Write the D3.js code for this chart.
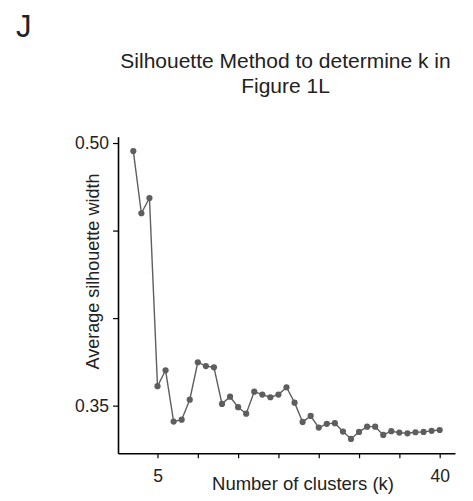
<!DOCTYPE html>
<html>
<head>
<meta charset="utf-8">
<script src="https://cdn.jsdelivr.net/npm/d3@7"></script>
<style>
  html, body { margin: 0; padding: 0; background: #fff; }
  svg { display: block; font-family: "Liberation Sans", Arial, sans-serif; }
</style>
</head>
<body>
<svg id="chart" width="473" height="501"></svg>
<script>
// Number of clusters tried
const clusters = [2, 3, 4, 5, 6, 7, 8, 9, 10, 11, 12, 13, 14, 15, 16, 17, 18, 19, 20,
  21, 22, 23, 24, 25, 26, 27, 28, 29, 30, 31, 32, 33, 34, 35, 36, 37, 38, 39, 40];
// Average silhouette width for each k
const silhouette = [0.4954, 0.4599, 0.4686, 0.3611, 0.3702, 0.3409, 0.3420, 0.3534, 0.3748,
  0.3726, 0.3719, 0.3510, 0.3551, 0.3491, 0.3454, 0.3580, 0.3563, 0.3548, 0.3563, 0.3605,
  0.3517, 0.3407, 0.3441, 0.3375, 0.3396, 0.3400, 0.3352, 0.3310, 0.3350, 0.3380, 0.3380,
  0.3333, 0.3354, 0.3346, 0.3342, 0.3348, 0.3350, 0.3356, 0.3361];
const xTicks = [5, 10, 15, 20, 25, 30, 35, 40];
const xTickLabels = ["5", "", "", "", "", "", "", "40"];
const yTicks = [0.35, 0.40, 0.45, 0.50];
const yTickLabels = ["0.35", "", "", "0.50"];

const points = clusters.map((k, i) => ({ k, v: silhouette[i] }));

const svg = d3.select("#chart");
const panel = { left: 118, right: 455, top: 136.7, bottom: 453.3 };

// Domains padded by 5% of the data range on each side
const xr = d3.extent(clusters), yr = d3.extent(silhouette);
const xp = (xr[1] - xr[0]) * 0.05, yp = (yr[1] - yr[0]) * 0.05;
const x = d3.scaleLinear().domain([xr[0] - xp, xr[1] + xp]).range([panel.left, panel.right]);
const y = d3.scaleLinear().domain([yr[0] - yp, yr[1] + yp]).range([panel.bottom, panel.top]);

const ink = "#222";
const markColor = "#5e5e5e";

// Panel letter
svg.append("text").attr("x", 16).attr("y", 37)
  .attr("font-size", 31).attr("fill", ink).text("J");

// Title
const title = svg.append("text").attr("text-anchor", "middle")
  .attr("font-size", 21).attr("fill", ink);
title.append("tspan").attr("x", 285.5).attr("y", 68).text("Silhouette Method to determine k in");
title.append("tspan").attr("x", 285.5).attr("y", 93).text("Figure 1L");

// Axes
const xAxis = d3.axisBottom(x).tickValues(xTicks)
  .tickFormat((d, i) => xTickLabels[i]).tickSize(5).tickPadding(11.5).tickSizeOuter(0);
const gx = svg.append("g").attr("transform", `translate(0,${panel.bottom})`).call(xAxis);
gx.select(".domain").attr("stroke", "#000").attr("stroke-width", 1.6);
gx.selectAll(".tick line").attr("stroke", "#000").attr("stroke-width", 1.2);
gx.selectAll(".tick text").attr("font-size", 17.5).attr("fill", ink)
  .attr("font-family", "Liberation Sans, Arial, sans-serif");

const yAxis = d3.axisLeft(y).tickValues(yTicks)
  .tickFormat((d, i) => yTickLabels[i]).tickSize(5).tickPadding(4).tickSizeOuter(0);
const gy = svg.append("g").attr("transform", `translate(${panel.left},0)`).call(yAxis);
gy.select(".domain").attr("stroke", "#000").attr("stroke-width", 1.6);
gy.selectAll(".tick line").attr("stroke", "#000").attr("stroke-width", 1.2);
gy.selectAll(".tick text").attr("font-size", 17.5).attr("fill", ink)
  .attr("font-family", "Liberation Sans, Arial, sans-serif");

// Axis titles
svg.append("text").attr("x", 303).attr("y", 489.5).attr("text-anchor", "middle")
  .attr("font-size", 18.5).attr("fill", ink).text("Number of clusters (k)");
svg.append("text").attr("transform", "translate(99,271.5) rotate(-90)")
  .attr("text-anchor", "middle").attr("font-size", 18).attr("fill", ink)
  .text("Average silhouette width");

// Line and points
svg.append("path").datum(points)
  .attr("fill", "none").attr("stroke", markColor).attr("stroke-width", 1.4)
  .attr("d", d3.line().x(d => x(d.k)).y(d => y(d.v)));
svg.append("g").selectAll("circle").data(points).join("circle")
  .attr("cx", d => x(d.k)).attr("cy", d => y(d.v)).attr("r", 3.1)
  .attr("fill", markColor);
</script>
</body>
</html>
